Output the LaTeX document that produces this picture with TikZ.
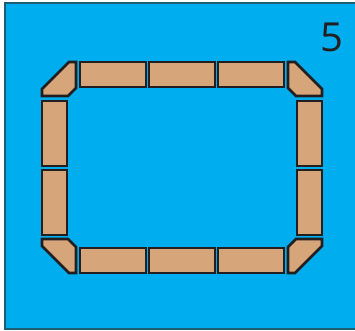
\documentclass[tikz,border=0pt]{standalone}
\usepackage{fontspec}
\setmainfont{Open Sans}
\definecolor{sky}{HTML}{00AEEF}
\definecolor{frameteal}{HTML}{1B5E75}
\definecolor{brick}{HTML}{D6A57A}
\definecolor{ink}{HTML}{231F20}
\begin{document}
\begin{tikzpicture}[x=1pt,y=-1pt,
  brickstyle/.style={fill=brick,draw=ink,line width=2.6pt,line join=miter}]
\useasboundingbox (0,0) rectangle (355,330);
\clip (0,0) rectangle (355,330);
\fill[white] (0,0) rectangle (355,330);
\draw[fill=sky,draw=frameteal,line width=2pt] (5,2.5) rectangle (370,328.5);
% top row
\draw[brickstyle] (80,62) rectangle (146,87);
\draw[brickstyle] (149,62) rectangle (215,87);
\draw[brickstyle] (218,62) rectangle (284,87);
% bottom row
\draw[brickstyle] (80,248) rectangle (146,273);
\draw[brickstyle] (149,248) rectangle (215,273);
\draw[brickstyle] (218,248) rectangle (284,273);
% left column
\draw[brickstyle] (42,101) rectangle (67,166);
\draw[brickstyle] (42,170) rectangle (67,235);
% right column
\draw[brickstyle] (297,101) rectangle (322,166);
\draw[brickstyle] (297,170) rectangle (322,235);
% corners
\draw[brickstyle] (69,62)--(76,62)--(76,88)--(68,96)--(42,96)--(42,89)--cycle;
\draw[brickstyle] (295,62)--(288,62)--(288,88)--(296,96)--(322,96)--(322,89)--cycle;
\draw[brickstyle] (69,273)--(76,273)--(76,247)--(68,239)--(42,239)--(42,246)--cycle;
\draw[brickstyle] (295,273)--(288,273)--(288,247)--(296,239)--(322,239)--(322,246)--cycle;
% number
\node[inner sep=0pt,text=ink,font=\fontsize{40}{40}\selectfont] (num) at (332,37.5) {5};
\end{tikzpicture}
\end{document}
